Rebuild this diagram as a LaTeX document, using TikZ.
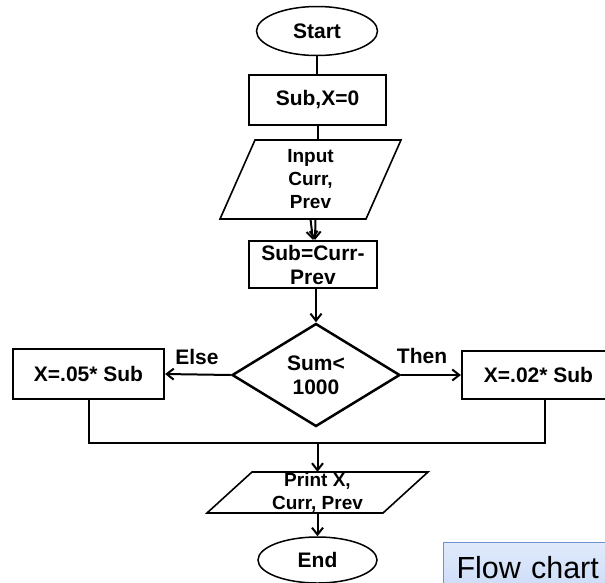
\documentclass[tikz,border=0pt]{standalone}
\usepackage{fontspec}
\setmainfont{Liberation Sans}
\usetikzlibrary{shapes.geometric,arrows.meta,calc}
\definecolor{capTop}{HTML}{E0EAFB}
\definecolor{capBottom}{HTML}{C7D9F7}
\definecolor{capEdge}{HTML}{6F94CC}
\newcommand\chartfont{\bfseries\fontsize{21}{24}\selectfont}
\newcommand\iofont{\bfseries\fontsize{19}{23}\selectfont}
\begin{document}
\begin{tikzpicture}[x=1pt,y=-1pt,
  term/.style={ellipse, draw, line width=1.5pt, inner sep=0pt, font=\chartfont},
  procbox/.style={rectangle, draw, line width=2.2pt, inner sep=0pt, align=center, font=\chartfont},
  iotext/.style={rectangle, inner sep=0pt, align=center, font=\iofont},
  iobox/.style={draw, line width=1.6pt, line join=miter},
  decision/.style={diamond, draw, line width=2.5pt, inner sep=0pt, aspect=1.63, align=center, font=\chartfont},
  lbl/.style={inner sep=0pt, font=\chartfont},
  conn/.style={line width=2pt},
  arr/.style={conn, -{Straight Barb[length=7pt,width=11pt]}},
  capbox/.style={rectangle, draw=capEdge, line width=1pt, top color=capTop, bottom color=capBottom,
    anchor=north west, inner xsep=13pt, inner ysep=0pt, text height=36pt, text depth=24pt,
    text width=160pt, align=left, font=\fontsize{30.5}{34}\selectfont}
]
\useasboundingbox (0,0) rectangle (605,582);

% terminals and steps
\node[term, minimum width=121pt, minimum height=49pt] (start) at (317,31) {Start};
\node[procbox, minimum width=137pt, minimum height=50pt] (init) at (317.5,100) {Sub,X=0};

\node[iotext, minimum width=147pt, minimum height=79pt] (input) at (310.5,179.5) {Input\\Curr,\\Prev};
\draw[iobox] ($(input.center)+(-55.5,-39.5)$) -- ++(146,0) -- ++(-35,79) -- ++(-146,0) -- cycle;

\node[procbox, minimum width=128pt, minimum height=47pt] (calc) at (313,264.5) {Sub=Curr-\\Prev};

\node[decision, minimum width=168pt, minimum height=103pt] (dec) at (316,375) {Sum<\\1000};

\node[procbox, minimum width=151pt, minimum height=50pt] (left) at (88.5,374) {X=.05* Sub};
\node[procbox, minimum width=153pt, minimum height=48pt] (right) at (538.5,375) {X=.02* Sub};

\node[lbl] (else) at (197,357) {Else};
\node[lbl] (then) at (422,356) {Then};

\coordinate (m) at (317.5,443);
\coordinate (rj) at ([xshift=6.5pt]right.south);

\node[iotext, minimum width=176pt, minimum height=41pt] (print) at (317.5,492.5) {Print X,\\Curr, Prev};
\draw[iobox] ($(print.center)+(-65.5,-20.5)$) -- ++(176,0) -- ++(-45,41) -- ++(-176,0) -- cycle;

\node[term, minimum width=119pt, minimum height=46pt] (end) at (317.5,560) {End};

% connectors
\draw[conn] (start.south) -- (start.south |- init.north);
\draw[conn] (init.south) -- (init.south |- input.north);
\draw[arr] (input.south) -- (calc.north);
\draw[arr] ([xshift=5pt]input.south) -- ([xshift=2pt]calc.north);
\draw[arr] (dec.north |- calc.south) -- (dec.north);
\draw[arr] (dec.west) -- (left.east);
\draw[arr] (dec.east) -- (right.west);
\draw[conn] (left.south) -- (left.south |- m) -- (rj |- m) -- (rj);
\draw[arr] (m) -- (print.north);
\draw[arr] (print.south) -- (end.north);

% caption box
\node[capbox] (cap) at (443,542) {Flow chart};
\end{tikzpicture}
\end{document}
